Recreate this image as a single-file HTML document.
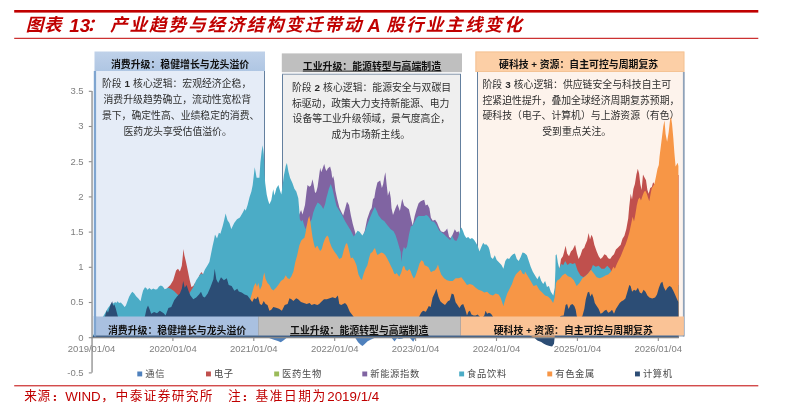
<!DOCTYPE html>
<html lang="zh-CN"><head><meta charset="utf-8"><title>图表 13：产业趋势与经济结构变迁带动 A 股行业主线变化</title>
<style>
html,body{margin:0;padding:0;background:#fff}
body{width:786px;height:418px;overflow:hidden;font-family:"Liberation Sans","Noto Sans CJK SC",sans-serif}
svg{display:block;will-change:transform}
svg text{font-family:"Liberation Sans","Noto Sans CJK SC",sans-serif}
</style></head><body>
<svg width="786" height="418" viewBox="0 0 786 418">
<rect width="786" height="418" fill="#fff"/>
<rect x="14.2" y="10" width="744.1" height="2.6" fill="#C00000"/><rect x="14.2" y="37.8" width="744.1" height="1" fill="#C00000"/><rect x="14.2" y="385.3" width="744.1" height="1" fill="#C00000"/><text x="25.8" y="31.4" font-size="17.6" font-weight="700" font-style="italic" letter-spacing="0.5" fill="#C00000">图表</text><text x="69.3" y="32" font-size="18.7" font-weight="700" font-style="italic" fill="#C00000">13</text><text x="86.5" y="31.4" font-size="17.6" font-weight="700" font-style="italic" fill="#C00000">：</text><text x="110" y="31.4" font-size="17.6" font-weight="700" font-style="italic" letter-spacing="1.9" fill="#C00000">产业趋势与经济结构变迁带动</text><text x="367.2" y="32" font-size="18.7" font-weight="700" font-style="italic" fill="#C00000">A</text><text x="386.4" y="31.4" font-size="17.6" font-weight="700" font-style="italic" letter-spacing="2.05" fill="#C00000">股行业主线变化</text><defs><linearGradient id="h1" x1="0" y1="0" x2="0" y2="1"><stop offset="0" stop-color="#BFD1E9"/><stop offset="1" stop-color="#AFC6E3"/></linearGradient></defs><rect x="95" y="70" width="169.5" height="266.2" fill="#E5ECF7"/><rect x="283" y="74" width="177.5" height="262.2" fill="#EFEFEF"/><rect x="478" y="72" width="205.5" height="264.2" fill="#FDF3EC"/><rect x="93.8" y="71" width="2.3" height="265.5" fill="#7FA5D0"/><rect x="264" y="71" width="1" height="265.5" fill="#64809F"/><rect x="282" y="74" width="1" height="262.5" fill="#64809F"/><rect x="282" y="73.7" width="179" height="1" fill="#8496AC"/><rect x="460" y="74" width="1" height="262.5" fill="#64809F"/><rect x="477" y="72" width="1" height="264.5" fill="#64809F"/><rect x="682.9" y="72" width="1.8" height="264.5" fill="#8FA2B8"/><rect x="94.5" y="51.5" width="170.5" height="19.5" fill="url(#h1)"/><rect x="281.8" y="53.4" width="180.2" height="18.8" fill="#BFBFBF"/><rect x="475.4" y="51.5" width="209" height="20.5" fill="#FCCFA6"/><rect x="475.9" y="52" width="208" height="19.5" fill="none" stroke="#F1BD8E" stroke-width="1" opacity="0.7"/><text x="110.9" y="67.6" font-size="9.9" font-weight="700" fill="#111111">消费升级：稳健增长与龙头溢价</text><text x="302.8" y="69.6" font-size="9.9" font-weight="700" fill="#111111">工业升级：能源转型与高端制造</text><rect x="302.8" y="70.7" width="138.6" height="0.8" fill="#111111"/><text x="499.06" y="68.4" font-size="9.9" font-weight="700" fill="#111111">硬科技</text><text x="531.36" y="68.4" font-size="9.9" fill="#111111" font-weight="700">+</text><text x="539.74" y="68.4" font-size="9.9" font-weight="700" fill="#111111">资源：自主可控与周期复苏</text><text x="101.9" y="87.25" font-size="9.85" fill="#2e2e2e">阶段</text><text x="124.6" y="87.25" font-size="9.9" fill="#2a2a2a" font-weight="700">1</text><text x="133.11" y="87.25" font-size="9.85" fill="#2e2e2e">核心逻辑：宏观经济企稳，</text><text x="103.5" y="102.75" font-size="9.85" fill="#2e2e2e">消费升级趋势确立，流动性宽松背</text><text x="101.9" y="118.85" font-size="9.85" fill="#2e2e2e">景下，确定性高、业绩稳定的消费、</text><text x="123.5" y="134.75" font-size="9.85" fill="#2e2e2e">医药龙头享受估值溢价。</text><text x="291.9" y="90.95" font-size="9.85" fill="#2e2e2e">阶段</text><text x="314.6" y="90.95" font-size="9.9" fill="#2a2a2a" font-weight="700">2</text><text x="323.11" y="90.95" font-size="9.85" fill="#2e2e2e">核心逻辑：能源安全与双碳目</text><text x="291.9" y="106.75" font-size="9.85" fill="#2e2e2e">标驱动，政策大力支持新能源、电力</text><text x="292.6" y="122.25" font-size="9.85" fill="#2e2e2e">设备等工业升级领域，景气度高企，</text><text x="331.4" y="138.05" font-size="9.85" fill="#2e2e2e">成为市场新主线。</text><text x="482.5" y="87.85" font-size="9.85" fill="#2e2e2e">阶段</text><text x="505.2" y="87.85" font-size="9.9" fill="#2a2a2a" font-weight="700">3</text><text x="513.71" y="87.85" font-size="9.85" fill="#2e2e2e">核心逻辑：供应链安全与科技自主可</text><text x="482.5" y="103.65" font-size="9.85" fill="#2e2e2e">控紧迫性提升，叠加全球经济周期复苏预期，</text><text x="482.5" y="119.45" font-size="9.85" fill="#2e2e2e">硬科技（电子、计算机）与上游资源（有色）</text><text x="542.2" y="135.25" font-size="9.85" fill="#2e2e2e">受到重点关注。</text><path d="M268.4,337.7 273.2,339.4 277.9,340.9 280.8,342.2 283.7,340.3 286.5,337.9 287,337.7Z" fill="#4F81BD"/><path d="M355.2,337.7 358.1,342.2 361,345.1 362.5,346 364.8,344.1 367.6,341.3 370.5,339.7 374.3,337.9 375,337.7Z" fill="#4F81BD"/><path d="M391.5,337.7 394.5,341.5 397,338.3 399,339 402,338.8 404,337.7Z" fill="#4F81BD"/><path d="M409.8,337.7 413.2,341.7 415.5,337.7Z" fill="#4F81BD"/><path d="M92,337.7 110,325 130,315 150,305 160,298 165,292 167.5,287.8 170.4,285 173.2,280.2 176.1,270.6 178,268.7 179.9,271.6 181.8,265.8 182.8,256 183.5,249 184.3,255 186,262 187.6,269.7 189.5,279.2 191.4,286.9 193.3,285.9 195,283 197,282 199.5,275 201.5,272 203,274.5 205,276 210,275 220,270 240,265 260,260 280,250 300,245 320,250 340,255 360,262 380,268 400,275 420,275 440,280 460,285 480,290 500,298 520,295 540,300 553,305 556,290 558,275 560,265.8 561,259.1 562.9,256.3 564.2,251.5 565.6,245.7 567.1,253.4 569,256.3 570.9,251.5 572.8,249.6 575.1,244.8 577,253.4 578.6,259.1 580.5,255.3 582.4,249.6 584.3,247.7 585.2,245 587.1,240.6 588.6,232.9 590,239.6 591.5,234.8 592.8,237.7 594.4,245 596.7,251.5 598.7,256.3 600.6,259.1 602.5,257.2 604.4,254.3 606.3,255.3 608.2,258.2 610.1,259.1 612,256.3 614,254.3 615.9,249.6 617.8,247.7 619.7,245.7 620.6,245 622.5,238.7 624.4,235.8 626.3,229.1 628.2,218.6 629.2,207.1 630.7,193.7 632,199.4 633.4,188.9 634.9,184.1 636.4,174.6 637.8,168.8 639.1,173.6 640.3,184.1 641.6,189.9 643,174.6 644.5,177.4 646,180.3 647.4,189.9 648.7,193.7 650.2,188 651.8,187 653.1,182.2 654.4,184.1 656,185 660,180 665,170 670,165 675,175 678.6,175 678.6,337.7Z" fill="#C0504D"/><path d="M92,337.7 150,325 200,315 230,290 260,260 285,235 299.2,214.5 301.1,210.1 302.5,214.5 305,205 306.5,192 307.5,184.9 309.4,186.8 311,185.5 312.5,179.2 313.8,185.5 315.1,193.2 316.4,191.5 317.6,186.8 318.9,177.3 320.2,167.7 321.2,172.2 322.5,169 324.2,163.9 325.5,169 326.5,170.9 327.8,168.4 330.1,166.5 331.4,171.5 332.3,178.5 333.2,176 334.2,180.4 335.4,190.6 337.3,199.5 339.4,207.8 341.3,211.7 343.2,215.5 345.1,208.8 347,201.7 349,205 350.9,215.5 352.8,224.1 354.7,230.8 356,236 360,238 363,236 364.8,230.8 367.1,219.3 370,210.7 371.7,208 373,198.9 374.3,198 375.5,190.6 377.4,182.4 378.8,181.5 380.2,180.4 381.9,188.1 383.2,184 384.4,176.6 385.4,172.2 386.6,184.3 387.9,195.7 389.5,190.6 390.8,198.3 391.5,208 393,215 395.5,208.3 397.4,204.1 399.9,211.1 402.2,198.7 404.1,205.4 406.4,207.3 408.9,209.2 410.8,217.8 412.7,225.5 414.7,215.9 416.6,209.2 418.5,203.5 420.4,201.6 422.3,200.6 424.2,199.7 425.6,205.4 427.5,204.4 429.4,208.3 430.9,217.8 432.8,220.7 435.1,219.7 437,222.6 439,227.4 440.9,231.2 443.4,232.2 445.3,231 447.2,228.4 449.1,237 451,238 452.9,234.1 454.8,229.3 456.7,232.2 458.7,231.2 460,237.9 462,245 470,255 480,262 500,275 520,285 540,295 555,310 560,290 580,290 600,292 620,295 640,290 660,285 678.6,285 678.6,337.7Z" fill="#8064A2"/><path d="M92,337.7 96,330 100,322 104,315 108,308 111,304 113.8,303.2 115.1,301.9 116.3,303 117.6,301.3 119,303 120.8,302.5 122.7,304.4 124.6,307 125.9,305.5 127.2,301.9 129.1,296.8 131,293.6 132.3,291.7 134.2,293.6 136.1,296.2 138.6,298.7 140.5,301.3 141.8,295.5 143.1,290.4 145,287.3 146.3,288 147.5,289.8 149.4,287.9 151.3,289.8 153.3,288.5 155.2,289.6 157.1,289.2 159,286.6 160.9,285.4 162.8,286.6 164.7,289.2 166.6,288.5 168.4,287.8 171,289 174,291 177,294 180,297 183,296 186,298 189,294 191.4,290 193.3,286.9 196.2,280.2 199,276.3 201,273.5 202.9,274.4 204.8,269.7 207.7,264.9 209.4,262 211,254 212.6,246 214.1,239.4 215,234.6 217,238.4 218.9,232.7 220.4,233.7 222.7,226 224.2,220 225.6,213.6 227.5,220.3 229.4,223.1 231.3,228.9 234.2,223.1 237,219.3 239.9,217.4 242.8,212.6 244.7,208.8 245.7,210.7 247.6,205 249.5,197.3 251.4,191.6 252.7,185 254.7,167.2 255.6,172 256.6,177.7 259.4,177.7 260.4,162.4 261.7,150.9 262.7,145.2 263.8,154.7 264.6,175 265.2,183 266.7,194.5 268,200 269.4,204.3 271.3,200.2 273.2,189.3 274.5,195.4 276.4,188.2 278.4,184.9 279.9,190.2 281.3,194.4 282.8,184 283.9,175.5 285.8,165.7 286.9,163 288.4,171.5 290.1,177.9 292.4,183 294.4,188.7 296.3,191.6 298.3,198.3 299.2,209 299.8,219.1 301.1,221.6 302.6,220 304.2,225.4 305.5,229.3 306.8,226 308.5,222 310.5,221.5 311.8,219 313.2,212.7 315.1,207.6 317.6,202.5 319.5,203.8 321.4,205.7 323.3,208.9 325.2,203.8 326.3,198.3 328.9,188.7 330.8,183.9 332.7,189.7 334.6,198.3 336.5,205.9 339.4,210.7 342.3,215.5 345.1,221.2 348,226 350.9,230.8 353.7,236.5 355.7,233.7 357.6,230.8 359.5,231.7 362.4,235.6 364.8,231.7 367.1,225 370,217.4 372.9,210.7 374.8,206.9 376.7,210.7 378.6,215.5 381.5,219.3 384.4,221.2 387.2,225 390.7,229.3 393.6,231.2 395.5,235 397.4,240.8 399.3,247.5 400.7,252 401.4,262 402.5,252 403.9,247 405.5,249 407,246.5 408.9,235 410.8,226.4 412.7,225.5 414.7,221.7 416.6,217.8 418.5,215.9 421.3,215.9 424.2,215.9 426.1,215 428,215.9 430,218.8 431.6,221.2 434.2,221.8 436.7,225.6 439.3,230.7 441.8,232.6 444.3,234.5 446.2,236.5 448.2,238.3 450.1,240.3 452,235.5 453.2,238 454.5,240.3 456.4,240.9 458.3,237.1 459.6,232 460.6,229.3 461.5,227.4 463.1,231.2 464.4,235 466.3,237.9 468.2,237 470.1,238.9 472,237.9 474,239.8 475.9,242.7 477.7,246 479.5,251.5 481.5,246.5 483.2,242.8 484.5,244.6 486.6,244.5 488.5,247 489.5,250 491,257.2 492.9,259.1 494.8,255.3 496.7,260.1 499.6,263 501.5,264.9 503.4,268.7 505.3,261 507.2,258.2 509.1,259 511,256.3 513,254.3 514.9,253.4 516.8,259.1 518.7,261 520.6,257.2 522.5,252.4 524.4,253 526.9,255.3 528.8,261 530.7,266.8 532.7,271.6 535.5,276.3 537.4,279.2 539.3,275.4 541.3,281.1 543.2,284 545.1,281.1 547,286.9 548.9,285.9 550.8,291.7 553.3,295.5 554.7,287.8 555.4,270 555.6,255.3 556.6,254.3 557.9,263 559.4,268.7 561,263.9 563.3,264.9 565.2,261 567.5,264.9 570,263 572.8,263.9 575.1,263 577.6,270.6 580.5,275.4 583.4,277.3 585.8,275.4 588.1,273.5 591,269.7 592.9,264.9 595.8,266.8 598.7,265.8 601.5,268.7 604.4,268.7 607.3,265.8 610.1,268.7 612,273.5 615,278 620,280 630,282 640,284 650,283 660,285 670,284 678.6,286 678.6,337.7Z" fill="#4BACC6"/><path d="M92,337.7 120,330 150,328 180,330 200,332 215,335 225,330 235,318 245,308 250.3,299.2 252.2,292.5 254.1,285.8 255.7,283 257,286.8 258.3,283 259.9,289.7 261.8,285.8 263.3,276.3 264.3,272.4 265.6,279.1 267.5,283 269.4,284.9 271.3,288.7 273.3,290.6 276.1,287.7 279,283.9 280.9,281 283.8,279.1 285.7,275.3 287.6,278.2 289.5,279.1 291.4,276.3 293.4,271.5 295.3,261.9 297.2,255.2 299.2,245.8 301.1,240.7 303,238.8 304.3,238 305.5,233.1 306.8,225.4 308.1,219.1 309.3,215.9 310.2,220.4 311.2,228 312.5,236.9 313.8,243.3 315.1,248.3 316.3,246.4 317.6,246 318.9,249 320.2,250.9 321.8,249 323.3,243.3 325.2,238.2 327.1,235.6 328.4,236.9 329.7,242 331.6,247.1 333.5,250.3 335,252.5 336.4,254.3 339.3,259 341.9,257.6 343.8,250 345.7,244.3 347,243 348.3,247.5 349.5,252.5 350.8,258.3 352.7,257.6 354.6,260.8 356.5,265.3 358.4,274.2 360.4,278.6 361.9,279.9 363.5,274.2 365.4,269.1 367.4,265.3 369,258.3 370.5,253.2 372.4,251.9 373.7,249.4 375,248.1 376.3,252.5 377.5,255.1 379.4,253.8 381.3,252.5 383.3,253.2 385.2,255.1 387.1,258.3 389,262.1 390.9,265.9 392.8,269.7 394.1,273.5 395.3,274.2 396.6,272.9 397.9,274.8 399.2,276.7 401.1,272.9 403,266.5 404.2,265.9 405.5,269.7 407.4,271 409.3,269.1 410.6,271 411.9,274.8 413.8,278.6 415.1,276.7 416.3,273.5 417.9,269.1 419.5,263.4 421.4,260.2 423.3,261.4 424.6,265.3 426.5,265.9 428.4,267.2 429.7,269.7 431,272.3 432.9,271 434.8,270.4 436.7,267.8 438,264.6 439.2,269.1 441.2,274.4 444.1,278.3 447,280.2 449.8,281.1 452.7,281.1 455.6,278.3 458.5,278.3 461.3,277.3 464.2,281.1 467,285 469.9,284 472.8,285 475.7,287.8 478.5,289.7 481.4,290.7 484.3,292.6 487.1,291.7 490,294.5 492.9,295.5 495.7,293.6 498.6,294.5 500.5,297.4 502.4,303.1 503.4,306 505.3,299.3 507.2,293.6 510.1,287.8 512,284 513.9,278.3 515.8,274.4 517.7,272.5 520.6,269.7 522.5,273.5 524.4,274.4 525,271.6 527.9,276.3 530.7,281.1 533.6,285.9 536.5,285 539.3,289.7 542.2,292.6 545.1,295.5 548,296.4 550.8,299.3 553.1,303.1 554.7,297.4 556,283 557.5,280.2 559.4,279.2 562.3,275.4 565.2,273.5 568,276.3 570.9,277.3 573.8,280.2 576.7,285.9 579.5,283 582.4,278.3 585.3,276.3 588.1,273.5 591,269.7 593.9,273.5 596.7,277.3 599.6,278.3 602.5,277.3 605.4,275.4 608.2,274.4 611.1,271.6 613.4,266.8 614.9,268.7 616.8,263.9 618.7,260.1 620.7,256.3 622.6,251.5 624.5,246.7 625.4,245 627.3,239.6 629.2,232.9 631.1,224.3 632.6,216.7 634,221.4 635.3,214.7 636.8,205.2 638.2,199.4 639.7,197.5 641,200.4 642.6,195.6 644.1,191.8 645.4,190.8 646.8,193.7 648.3,198.5 649.3,201.3 650.6,193.7 651.8,188 653.1,186 654.4,184.1 656,176.5 657.5,168.8 658.8,165 659.5,157 661.4,141.7 663.3,126.3 664.5,120.6 665.6,134 667.1,141.7 668.7,132.1 670,120.6 671,116.8 672.1,124.4 673.3,137.8 674.4,153.1 675.6,166.5 676.7,164.6 677.6,162.7 678.4,166 678.6,337.7Z" fill="#F79646"/><path d="M92,337.7 97,330 101,322 104.9,316.5 106.8,310.2 108,312.7 109.4,308.3 110.6,304.4 112.2,301.3 113.2,305.7 114.4,304.4 115.7,308.3 117,313.3 117.9,316.5 121,322 125,326 130,324 135,328 140,322 144.9,316.5 146.5,309 148,305.6 149.5,309 151.2,313.7 154.1,312.1 157,313.3 159.8,310.8 163.7,313.3 165.6,315.6 168.4,307.9 171.3,307 174.2,300.3 177,296.4 179.9,293.6 181.8,288.8 183.2,281.1 184.7,287.8 186.6,285 188.5,290.7 190.4,295.5 193.3,299.3 196.2,297.4 199,294.5 201,291.7 202.9,296.4 204.8,297.4 207.7,293.6 210.5,286.9 213.4,279.2 214.7,268.7 216.3,279.2 218.2,283 221,277.3 223.9,280.2 226.8,278.3 228.7,285 231.6,285.9 234.4,290.7 237.3,288.8 238.8,291.6 241.7,292.5 244.6,294.4 247.4,295.4 250.3,299.2 252.2,302.1 254.1,298.3 256,299.2 258,296.4 259.9,304 261.8,305 263.7,301.1 265.6,304 267.5,305 269.4,310.7 271.3,309.7 273.3,306.9 276.1,307.8 279,308.8 281.9,310.7 284.7,305 287.6,304 289.5,298.3 291.4,299.2 293.4,301.1 296.2,298.3 298.1,299.2 301,302.1 303.9,303 306.7,304 309.6,303 311.5,305 314.4,304 317.3,305 319.2,304 321.1,302.1 324,299.2 326.8,299.2 329.7,298.3 332.6,297.3 335.4,298.3 337.9,295.4 339.3,304 341.2,305 343.1,304 345,303 346.9,305 349.8,311.7 352.7,315.5 356,320 365,326 375,323 385,328 395,325 405,322 412,324 419.2,316.5 421.1,312.7 423,310.8 425.9,311.8 428.8,306 430.7,307 432.6,297.4 434.5,293.6 436.4,288.8 438.4,296.4 440.3,301.2 442.2,303.1 445,305 447.9,301.2 449.8,300.3 451.7,293.6 453.7,294.5 455.6,302.2 457.5,305 459.4,307.9 461.3,305 463.2,304.1 465.1,308.9 467,315.6 468.4,311.7 469.9,310.8 471.4,314.6 473.7,315.6 475.7,315.6 477.6,314.6 479.5,316.5 482,318 484.3,315.6 485.6,310.8 487.1,313.7 489,312.7 491,313.7 492.9,316.5 496,322 500,326 505,324 510,328 515,330 520,332 527,334 534.2,337.7 537.4,340.6 541.2,341.9 543.8,343.8 546.3,345.1 549.5,346.1 552.1,346.4 554,343.8 554.6,337.7 555.6,328 557,322 559,320 560.4,316.1 563.7,315.5 565.6,305 567.1,304 568.6,308.9 570.5,305 572.4,304.1 574.3,306 575.7,309.8 576.7,316.1 579,320 582.4,316.1 584.3,308.9 585.8,299.3 587.7,292.6 589.1,291.7 590.4,296.4 592,293.6 593.5,297.4 594.8,303.1 596.7,306 598.7,308.9 600.6,313.7 602.5,312.7 604.4,310.8 606.3,309.8 608.2,312.7 610.1,311.7 612,309.8 614,313.7 615.9,308.9 617.8,306 619.7,303.1 621.6,301.2 623.5,300.3 625.4,298.4 627.4,291.7 629.3,285 630.6,285.9 632.1,291.7 634,289.7 635.9,290.7 637.9,287.8 639.8,292.6 641.7,293.6 643.6,289.7 645.5,291.7 647.4,295.5 649.4,297.4 652.2,298.4 655.1,297.4 657,294.5 658.9,287.8 660.8,283 662.4,281.7 663.7,286.9 665.6,290.7 667.5,287.8 669.4,285.9 671.3,286.9 673.3,290.7 675,294.5 676.5,298 678.3,302 678.6,337.7Z" fill="#2C4D75"/><rect x="95.2" y="316.5" width="163" height="19.2" fill="#A9C0E0"/><rect x="258.2" y="316.5" width="202.5" height="19.2" fill="#BFBFBF"/><rect x="460.7" y="316.5" width="223.2" height="19.2" fill="#FAC396"/><rect x="93.8" y="316" width="2.3" height="20.5" fill="#7FA5D0"/><rect x="95" y="335.5" width="589" height="1" fill="#6F87A8" opacity="0.8"/><text x="107.9" y="334" font-size="9.9" font-weight="700" fill="#111111">消费升级：稳健增长与龙头溢价</text><text x="290" y="334" font-size="9.9" font-weight="700" fill="#111111">工业升级：能源转型与高端制造</text><rect x="290" y="335.0" width="138.6" height="0.8" fill="#111111"/><text x="493.66" y="334.4" font-size="9.9" font-weight="700" fill="#111111">硬科技</text><text x="525.96" y="334.4" font-size="9.9" fill="#111111" font-weight="700">+</text><text x="534.34" y="334.4" font-size="9.9" font-weight="700" fill="#111111">资源：自主可控与周期复苏</text><rect x="91.4" y="91" width="1.3" height="281.6" fill="#8c8c8c"/><rect x="91.4" y="337.1" width="587.4" height="1.2" fill="#8c8c8c"/><g font-size="9.5" fill="#7F7F7F" text-anchor="end"><rect x="88.8" y="372.35" width="3" height="1.1" fill="#8c8c8c"/><text x="83.6" y="375.8">-0.5</text><rect x="88.8" y="337.15" width="3" height="1.1" fill="#8c8c8c"/><text x="83.6" y="340.6">0</text><rect x="88.8" y="301.95" width="3" height="1.1" fill="#8c8c8c"/><text x="83.6" y="305.4">0.5</text><rect x="88.8" y="266.75" width="3" height="1.1" fill="#8c8c8c"/><text x="83.6" y="270.2">1</text><rect x="88.8" y="231.55" width="3" height="1.1" fill="#8c8c8c"/><text x="83.6" y="235">1.5</text><rect x="88.8" y="196.35" width="3" height="1.1" fill="#8c8c8c"/><text x="83.6" y="199.8">2</text><rect x="88.8" y="161.15" width="3" height="1.1" fill="#8c8c8c"/><text x="83.6" y="164.6">2.5</text><rect x="88.8" y="125.95" width="3" height="1.1" fill="#8c8c8c"/><text x="83.6" y="129.4">3</text><rect x="88.8" y="90.75" width="3" height="1.1" fill="#8c8c8c"/><text x="83.6" y="94.2">3.5</text></g><g font-size="9.5" fill="#7F7F7F" text-anchor="middle"><text x="91.6" y="352.3">2019/01/04</text><rect x="172.35" y="338" width="1.1" height="3" fill="#8c8c8c"/><text x="172.9" y="352.3">2020/01/04</text><rect x="253.25" y="338" width="1.1" height="3" fill="#8c8c8c"/><text x="253.8" y="352.3">2021/01/04</text><rect x="334.15" y="338" width="1.1" height="3" fill="#8c8c8c"/><text x="334.7" y="352.3">2022/01/04</text><rect x="415.05" y="338" width="1.1" height="3" fill="#8c8c8c"/><text x="415.6" y="352.3">2023/01/04</text><rect x="495.95" y="338" width="1.1" height="3" fill="#8c8c8c"/><text x="496.5" y="352.3">2024/01/04</text><rect x="576.85" y="338" width="1.1" height="3" fill="#8c8c8c"/><text x="577.4" y="352.3">2025/01/04</text><rect x="657.75" y="338" width="1.1" height="3" fill="#8c8c8c"/><text x="658.3" y="352.3">2026/01/04</text></g><rect x="137.3" y="371.5" width="4.9" height="4.9" fill="#4F81BD"/><text x="145.2" y="377.2" font-size="9.3" letter-spacing="0.65" fill="#4a4a4a">通信</text><rect x="206" y="371.5" width="4.9" height="4.9" fill="#C0504D"/><text x="213.9" y="377.2" font-size="9.3" letter-spacing="0.65" fill="#4a4a4a">电子</text><rect x="274.2" y="371.5" width="4.9" height="4.9" fill="#9BBB59"/><text x="282.1" y="377.2" font-size="9.3" letter-spacing="0.65" fill="#4a4a4a">医药生物</text><rect x="362.3" y="371.5" width="4.9" height="4.9" fill="#8064A2"/><text x="370.2" y="377.2" font-size="9.3" letter-spacing="0.65" fill="#4a4a4a">新能源指数</text><rect x="459.2" y="371.5" width="4.9" height="4.9" fill="#4BACC6"/><text x="467.1" y="377.2" font-size="9.3" letter-spacing="0.65" fill="#4a4a4a">食品饮料</text><rect x="547.3" y="371.5" width="4.9" height="4.9" fill="#F79646"/><text x="555.2" y="377.2" font-size="9.3" letter-spacing="0.65" fill="#4a4a4a">有色金属</text><rect x="635" y="371.5" width="4.9" height="4.9" fill="#2C4D75"/><text x="642.9" y="377.2" font-size="9.3" letter-spacing="0.65" fill="#4a4a4a">计算机</text><text x="24.3" y="400.3" font-size="12.7" letter-spacing="0.6" fill="#C00000">来源</text><rect x="53.9" y="399" width="2" height="1.8" fill="#C00000"/><rect x="53.9" y="395.2" width="2" height="1.8" fill="#C00000"/><text x="65.2" y="400.5" font-size="13.33" fill="#C00000">WIND</text><text x="101.3" y="400" font-size="13" fill="#C00000">，</text><text x="115.6" y="400.3" font-size="12.7" letter-spacing="1.35" fill="#C00000">中泰证券研究所</text><text x="228.1" y="400.3" font-size="12.7" fill="#C00000">注</text><rect x="243.9" y="399" width="2" height="1.8" fill="#C00000"/><rect x="243.9" y="395.2" width="2" height="1.8" fill="#C00000"/><text x="255.4" y="400.3" font-size="12.7" letter-spacing="1.6" fill="#C00000">基准日期为</text><text x="327.3" y="400.5" font-size="13.33" fill="#C00000">2019/1/4</text>
</svg>
</body></html>
